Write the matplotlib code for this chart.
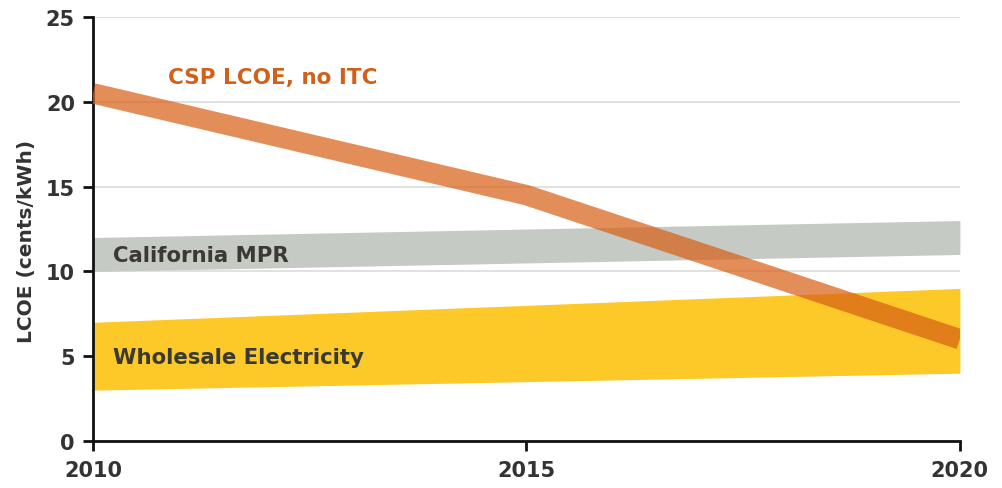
import numpy as np
import matplotlib
matplotlib.use("Agg")

import matplotlib.pyplot as plt

# years on the x axis
years = [2010, 2015, 2020]

# CSP cost without the investment tax credit (cents/kWh)
csp_lcoe = [20.5, 14.5, 6.0]

# California market price referent band
mpr_low = [10.0, 10.5, 11.0]
mpr_high = [12.0, 12.5, 13.0]

# wholesale electricity price band
wholesale_low = [3.0, 3.5, 4.0]
wholesale_high = [7.0, 8.0, 9.0]

y_ticks = [0, 5, 10, 15, 20, 25]
x_ticks = [2010, 2015, 2020]


def main():
    plt.rcParams["font.family"] = ["DejaVu Sans"]
    plt.rcParams["font.weight"] = "bold"

    fig = plt.figure(figsize=(10.03, 4.89), dpi=100)
    ax = fig.add_axes([0.0927, 0.0961, 0.8643, 0.8670])

    # bands first, then the thick cost line over them
    ax.fill_between(years, wholesale_low, wholesale_high,
                    color="#fcc929", linewidth=0, zorder=2)
    ax.fill_between(years, mpr_low, mpr_high,
                    color="#c6cac5", linewidth=0, zorder=2)
    ax.plot(years, csp_lcoe, color="#d85e13", alpha=0.7,
            linewidth=14.7, solid_capstyle="butt",
            solid_joinstyle="miter", zorder=3)

    ax.text(2010.87, 21.45, "CSP LCOE, no ITC", color="#d0601a",
            fontsize=15.5, fontweight="bold", va="center", ha="left")
    ax.text(2010.23, 10.95, "California MPR", color="#3a3a33",
            fontsize=15.3, fontweight="bold", va="center", ha="left")
    ax.text(2010.23, 4.95, "Wholesale Electricity", color="#3a3a33",
            fontsize=15.3, fontweight="bold", va="center", ha="left")

    ax.set_xlim(2010, 2020)
    ax.set_ylim(0, 25)
    ax.set_yticks(y_ticks)
    ax.set_xticks(x_ticks)
    ax.set_xticklabels([str(x) for x in x_ticks])

    ax.grid(axis="y", color="#dcdcdc", linewidth=1.2, zorder=0)
    ax.set_axisbelow(True)

    for side in ("top", "right"):
        ax.spines[side].set_visible(False)
    for side in ("left", "bottom"):
        ax.spines[side].set_color("#111111")
        ax.spines[side].set_linewidth(2)

    ax.tick_params(axis="both", colors="#111111", width=2, length=7,
                   labelcolor="#333333", labelsize=15)
    ax.tick_params(axis="y", pad=6)
    ax.tick_params(axis="x", pad=7)

    ax.set_ylabel("LCOE (cents/kWh)", fontsize=14.5, fontweight="bold",
                  color="#333333")
    ax.yaxis.set_label_coords(-0.066, 0.472)

    plt.savefig("out.png", dpi=100)


if __name__ == "__main__":
    main()
